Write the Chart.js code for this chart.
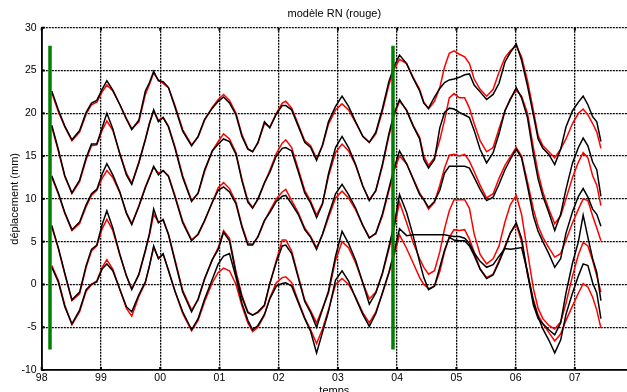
<!DOCTYPE html>
<html><head><meta charset="utf-8">
<script src="https://cdn.jsdelivr.net/npm/chart.js@4.4.1/dist/chart.umd.min.js"></script>
<style>html,body{margin:0;padding:0;background:#fff;overflow:hidden}canvas{display:block}</style>
</head><body>
<canvas id="c" width="627" height="392"></canvas>
<script>
// time axis (decimal years)
const years = [
1998.17,1998.28,1998.39,1998.51,1998.64,1998.75,1998.84,1998.93,1999.02,1999.10,
1999.20,1999.32,1999.43,1999.52,1999.64,1999.75,1999.82,1999.89,1999.97,2000.05,
2000.14,2000.25,2000.38,2000.53,2000.64,2000.75,2000.88,2000.98,2001.07,2001.17,
2001.28,2001.38,2001.48,2001.56,2001.65,2001.76,2001.85,2001.96,2002.06,2002.12,
2002.22,2002.33,2002.44,2002.54,2002.64,2002.74,2002.84,2002.96,2003.07,2003.18,
2003.30,2003.42,2003.53,2003.64,2003.75,2003.86,2003.95,2004.04,2004.16,2004.27,
2004.38,2004.45,2004.53,2004.63,2004.72,2004.80,2004.88,2004.96,2005.05,2005.14,
2005.22,2005.30,2005.40,2005.51,2005.62,2005.72,2005.82,2005.91,2006.01,2006.10,
2006.20,2006.30,2006.38,2006.46,2006.56,2006.66,2006.76,2006.85,2006.96,2007.06,
2007.14,2007.22,2007.30,2007.37,2007.44];

// measured (black) and model RN (red) displacements, mm
const s1Black = [22.6,20.4,18.5,16.9,18.0,20.1,21.2,21.5,22.8,23.8, 22.7,21.0,19.3,18.1,19.2,22.6,23.6,24.9,23.8,23.7, 23.0,20.7,17.9,16.2,17.3,19.3,20.6,21.4,21.9,21.2, 19.8,17.3,15.8,15.5,16.6,19.0,18.3,19.9,20.9,20.9, 20.4,18.5,16.6,16.0,14.5,16.3,19.0,20.8,22.0,20.8, 19.0,17.3,16.6,17.8,20.5,23.7,25.5,26.8,25.8,24.1, 22.6,21.2,20.6,21.9,22.9,23.6,23.9,24.0,24.2,24.5, 24.6,23.3,22.5,21.6,22.2,23.5,26.0,27.1,28.1,26.2, 23.2,19.8,17.0,15.9,15.2,14.0,15.8,18.4,20.3,21.3, 22.0,21.0,19.6,19.0,16.7];
const s1Red = [22.4,20.2,18.4,16.8,17.8,19.9,21.0,21.3,22.5,23.3, 22.6,21.0,19.4,18.2,19.0,22.2,23.4,24.7,23.9,23.5, 23.0,20.9,18.1,16.3,17.2,19.2,20.7,21.6,22.2,21.5, 20.0,17.5,15.9,15.5,16.5,18.8,18.4,20.0,21.2,21.4, 20.6,18.7,16.8,16.2,14.7,16.2,18.7,20.4,21.1,20.4, 18.9,17.3,16.6,17.6,20.2,23.3,25.2,26.3,25.8,24.2, 22.8,21.3,20.5,21.4,23.0,25.4,27.0,27.3,26.9,26.6, 25.8,24.0,22.8,22.0,22.8,24.8,26.5,27.3,27.9,26.6, 23.8,20.3,17.4,16.2,15.5,14.8,15.8,17.0,18.8,20.0, 20.5,19.8,18.8,17.8,15.9];
const s2Black = [18.6,15.8,12.7,10.7,12.2,14.8,16.4,16.4,18.3,20.0, 18.2,15.2,12.8,11.7,14.2,16.9,18.8,20.4,19.0,19.5, 18.4,15.9,12.5,9.7,10.7,13.4,15.6,16.4,17.0,16.7, 15.2,12.1,9.6,8.9,10.0,11.9,13.1,15.0,15.9,16.0, 15.6,13.2,10.7,9.5,7.8,9.4,12.9,16.0,17.3,16.0, 14.0,11.5,9.8,11.0,14.0,17.6,20.0,21.6,20.3,18.5, 17.0,14.6,13.6,14.6,18.3,20.1,20.6,20.5,20.1,19.8, 19.5,18.0,15.8,14.2,15.4,17.6,20.3,21.6,23.0,21.8, 19.5,15.2,12.3,10.3,8.4,6.3,8.2,11.1,14.2,16.0, 17.1,16.2,14.3,13.4,10.3];
const s2Red = [18.4,15.6,12.6,10.6,12.0,14.6,16.2,16.3,18.0,19.1, 18.0,15.3,13.0,11.8,14.3,17.0,18.9,20.2,19.2,19.5, 18.5,16.1,12.7,9.8,10.6,13.2,15.6,16.7,17.6,17.0, 15.4,12.3,9.8,9.0,9.9,11.8,13.3,15.3,16.5,16.9, 16.0,13.5,11.0,9.7,8.1,9.5,12.6,15.4,16.4,15.6, 13.9,11.5,9.9,10.9,13.8,17.3,19.8,21.4,20.4,18.6, 17.2,15.0,13.9,14.8,16.9,19.2,21.8,22.3,21.8,21.8, 20.6,18.8,16.8,15.5,16.0,18.2,20.3,21.7,22.7,22.0, 20.0,16.0,13.0,10.8,8.8,7.1,8.0,10.0,12.5,14.3, 15.4,14.8,12.7,11.6,9.2];
const s3Black = [12.7,10.7,8.4,6.4,7.3,9.3,10.6,11.1,12.9,14.1, 12.8,10.8,8.3,7.0,9.1,11.3,12.5,13.8,12.8,13.3, 12.6,10.2,7.2,5.1,5.9,7.5,9.6,11.0,11.4,10.8, 9.4,6.7,4.6,4.6,5.6,7.5,8.4,9.7,10.3,10.4, 9.4,8.2,6.4,5.5,4.1,5.9,8.1,10.6,11.7,10.5, 8.9,6.9,5.4,6.0,8.2,11.2,13.6,15.6,14.1,12.3, 10.5,9.9,9.0,9.7,11.0,13.0,13.8,13.8,13.8,13.8, 13.6,12.5,11.1,9.8,10.2,11.7,13.4,14.6,15.8,14.8, 11.5,8.0,6.2,5.0,3.6,2.0,3.0,6.0,8.5,10.3, 11.2,10.2,8.8,8.2,6.8];
const s3Red = [12.5,10.6,8.3,6.3,7.1,9.1,10.4,11.0,12.4,13.3, 12.5,10.7,8.4,7.1,9.2,11.4,12.6,13.7,13.0,13.3, 12.7,10.4,7.4,5.2,5.8,7.4,9.6,11.3,11.9,11.2, 9.6,6.9,4.8,4.7,5.5,7.4,8.6,10.0,10.8,11.1, 9.8,8.4,6.6,5.6,4.3,5.8,7.8,10.1,10.9,10.1, 8.7,6.9,5.5,5.9,8.0,10.9,13.3,15.0,14.1,12.4, 10.7,9.9,8.8,9.6,11.6,13.6,15.1,15.2,15.0,15.2, 14.4,13.2,11.6,10.1,10.6,12.4,13.9,14.9,16.0,15.0, 12.0,8.8,6.8,5.5,4.3,3.2,3.6,5.2,7.2,8.8, 10.0,9.8,8.0,6.6,5.1];
const s4Black = [6.9,4.3,1.3,-1.8,-0.9,2.2,4.1,4.6,7.0,8.6, 6.6,3.5,1.0,-0.6,1.2,4.0,6.0,8.8,7.2,7.6, 5.8,2.7,-0.9,-3.2,-1.7,0.7,2.9,4.1,6.1,5.1, 1.2,-1.5,-3.3,-3.6,-3.2,-2.4,0.1,2.6,4.5,4.6, 3.6,0.8,-2.0,-3.3,-5.0,-2.9,-0.8,3.3,6.2,4.8, 2.8,0.2,-2.3,-1.0,1.3,4.4,7.0,10.5,8.4,5.7, 2.6,0.8,-0.6,-0.2,2.0,4.0,5.5,5.2,5.1,5.1, 4.5,3.4,1.8,0.7,1.1,2.6,4.3,6.0,7.2,5.4, 1.3,-2.4,-4.0,-4.6,-5.3,-5.9,-4.5,-1.0,2.5,5.0, 8.1,5.5,3.0,1.4,-1.9];
const s4Red = [6.7,4.2,1.2,-1.9,-1.1,2.0,3.9,4.5,6.5,7.6, 6.3,3.4,1.0,-0.5,1.1,3.9,5.8,8.2,7.3,7.5, 5.9,2.9,-0.7,-3.0,-1.8,0.6,2.9,4.3,6.3,5.4, 1.5,-1.3,-3.2,-3.6,-3.3,-2.5,0.0,2.8,5.2,5.2, 3.9,1.0,-1.8,-3.1,-4.5,-2.8,-1.0,2.8,5.0,4.3, 2.5,0.2,-1.7,-0.9,1.2,4.1,6.6,9.6,7.2,4.9, 3.0,2.0,1.2,1.6,3.8,6.5,8.6,9.9,9.9,9.9, 8.9,5.9,3.5,2.4,3.0,4.5,7.3,9.3,10.4,8.2, 3.8,-0.5,-2.8,-4.0,-4.8,-5.2,-4.4,-2.2,1.0,3.5, 4.9,4.5,2.8,1.0,-0.9];
const s5Black = [2.0,0.3,-2.6,-4.6,-3.0,-0.6,0.0,0.3,1.8,2.4, 1.6,-0.6,-2.6,-3.2,-1.2,0.3,2.2,4.5,3.0,3.6, 1.6,-0.8,-3.2,-5.3,-4.0,-1.7,0.6,2.4,3.3,3.6, 0.8,-2.2,-4.2,-5.3,-4.8,-3.5,-1.7,-0.2,0.1,0.2, -0.2,-2.1,-4.0,-5.5,-8.0,-5.6,-3.2,0.5,1.6,0.4, -1.6,-3.5,-4.9,-3.4,-1.0,1.4,3.8,6.5,5.7,5.8, 5.8,5.8,5.8,5.8,5.8,5.8,5.7,5.6,5.6,5.4, 4.8,3.7,2.7,2.0,2.3,3.3,4.2,4.1,4.2,4.3, 1.5,-2.0,-3.8,-5.2,-6.5,-8.0,-6.5,-3.5,-1.0,1.0, 2.4,2.2,0.2,-1.0,-4.0];
const s5Red = [2.2,0.5,-2.4,-4.7,-3.2,-0.8,0.0,0.4,2.0,2.9, 1.8,-0.6,-2.8,-3.7,-1.4,0.2,2.2,4.3,3.1,3.5, 1.7,-0.8,-3.4,-5.4,-4.2,-2.0,0.2,1.4,1.9,1.6, 0.0,-2.5,-4.5,-5.5,-5.0,-3.6,-1.6,0.2,0.8,0.9, 0.2,-1.9,-3.9,-5.3,-6.9,-5.2,-3.0,0.0,0.7,0.0, -1.5,-3.3,-4.5,-3.2,-1.1,1.3,3.4,5.8,4.2,2.5, 0.8,0.0,-0.5,-0.2,1.5,3.8,5.5,6.4,6.3,6.4, 5.3,3.8,1.8,0.8,1.2,2.8,4.5,6.0,7.0,5.0, 1.2,-1.8,-3.6,-4.6,-5.6,-6.6,-5.8,-4.2,-2.5,-1.0, 0.1,-0.3,-1.5,-3.0,-5.1];

// green period markers
const markerYears = [1998.14, 2003.93];
const markerRange = [-7.6, 27.9];

// axes
const xMin = 1998, xMax = 2007.88, xStep = 1;
const yMin = -10, yMax = 30, yStep = 5;

const FONT = '"Liberation Sans", Arial, Helvetica, sans-serif';
const pts = vals => years.map((x, i) => ({x, y: vals[i]}));

const datasets = [];
markerYears.forEach(x => datasets.push({
  data: markerRange.map(y => ({x, y})), borderColor: '#008000', borderWidth: 3.5,
  pointRadius: 0, borderCapStyle: 'butt'
}));
[s1Black, s2Black, s3Black, s4Black, s5Black].forEach(v => datasets.push({
  data: pts(v), borderColor: '#000000', borderWidth: 1.5, pointRadius: 0, tension: 0
}));
[s1Red, s2Red, s3Red, s4Red, s5Red].forEach(v => datasets.push({
  data: pts(v), borderColor: '#ff0000', borderWidth: 1.5, pointRadius: 0, tension: 0
}));

const innerTicks = {
  id: 'innerTicks',
  afterDatasetsDraw(chart) {
    const {ctx, chartArea: a, scales: {x, y}} = chart;
    ctx.save();
    ctx.fillStyle = '#000';
    x.ticks.forEach(t => {
      if (!Number.isInteger(t.value)) return;
      const px = x.getPixelForValue(t.value);
      ctx.fillRect(px - 1, a.top, 2, 3);
      ctx.fillRect(px - 1, a.bottom - 3, 2, 3);
    });
    y.ticks.forEach(t => {
      const py = y.getPixelForValue(t.value);
      ctx.fillRect(a.left, py - 1, 3, 2);
    });
    ctx.restore();
  }
};

new Chart(document.getElementById('c'), {
  type: 'line',
  data: {datasets},
  plugins: [innerTicks],
  options: {
    responsive: false, animation: false, devicePixelRatio: 1,
    layout: {padding: 0},
    plugins: {
      legend: {display: false}, tooltip: {enabled: false},
      title: {display: true, text: 'modèle RN (rouge)', fullSize: false, color: '#000',
        font: {family: FONT, size: 11, weight: 'normal'}, padding: {top: 7, bottom: 7.5}}
    },
    scales: {
      x: {
        type: 'linear', min: xMin, max: xMax,
        afterFit: s => { s.height = 22; },
        ticks: {stepSize: xStep, includeBounds: false, autoSkip: false, maxRotation: 0, color: '#000',
          padding: 2, font: {family: FONT, size: 10.5},
          callback: v => Number.isInteger(v) ? String(v % 100).padStart(2, '0') : ''},
        grid: {color: '#000', lineWidth: 1.3, drawTicks: false},
        border: {display: true, color: '#000', width: 1.8, dash: [2, 1]},
        title: {display: true, text: 'temps', color: '#000', font: {family: FONT, size: 11},
          padding: {top: 0, bottom: -6}}
      },
      y: {
        min: yMin, max: yMax,
        afterFit: s => { s.width = 41.7; },
        ticks: {stepSize: yStep, color: '#000', padding: 5, font: {family: FONT, size: 10.5}},
        grid: {color: '#000', lineWidth: 1.3, drawTicks: false},
        border: {display: true, color: '#000', width: 1.8, dash: [2, 1]},
        title: {display: true, text: 'déplacement (mm)', color: '#000', font: {family: FONT, size: 11},
          padding: {top: 8.4, bottom: 0}}
      }
    }
  }
});
</script>
</body></html>
